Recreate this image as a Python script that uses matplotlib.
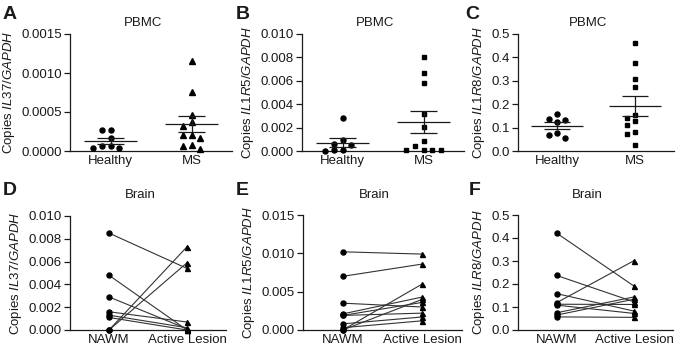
import numpy as np
import matplotlib
matplotlib.use("Agg")
import matplotlib.pyplot as plt

plt.rcParams['font.family'] = ['Liberation Sans', 'DejaVu Sans']
plt.rcParams['mathtext.fontset'] = 'custom'
plt.rcParams['mathtext.rm'] = 'Liberation Sans'
plt.rcParams['mathtext.it'] = 'Liberation Sans:italic'

# --- PBMC data (scatter with mean +/- SEM) ---
pbmc_groups = ["Healthy", "MS"]

il37_healthy = [0.00027, 0.00027, 0.00017, 0.00007, 0.00007, 0.00004, 0.00004]
il37_ms = [0.00115, 0.00076, 0.00046, 0.00037, 0.00032, 0.00020, 0.00021,
           0.00017, 0.00008, 0.00007, 0.00003]

il1r5_healthy = [0.00284, 0.0009, 0.0006, 0.0005, 0.0001, 0.00005, 0.0]
il1r5_ms = [0.00807, 0.0067, 0.00582, 0.00315, 0.00207, 0.00082, 0.00039,
            0.00005, 0.00005, 0.00005, 0.00005]

il1r8_healthy = [0.157, 0.132, 0.126, 0.135, 0.079, 0.070, 0.057]
il1r8_ms = [0.463, 0.378, 0.306, 0.272, 0.155, 0.142, 0.127, 0.112, 0.081,
            0.071, 0.025]

# --- Brain data (paired NAWM vs active lesion) ---
brain_groups = ["NAWM", "Active Lesion"]

il37_nawm = [0.0085, 0.0048, 0.0029, 0.0016, 0.0013, 0.0011, 0.0, 0.0]
il37_lesion = [0.0054, 0.0000, 0.0001, 0.0007, 0.0002, 0.0000, 0.0073, 0.0059]

il1r5_nawm = [0.0102, 0.0070, 0.0035, 0.0021, 0.0019, 0.0019, 0.0008, 0.0003,
              0.0, 0.0]
il1r5_lesion = [0.0099, 0.0086, 0.0030, 0.0043, 0.0036, 0.0022, 0.0017,
                0.0012, 0.0060, 0.0040]

ilr8_nawm = [0.421, 0.237, 0.158, 0.119, 0.112, 0.108, 0.075, 0.065, 0.057]
ilr8_lesion = [0.190, 0.122, 0.082, 0.302, 0.111, 0.072, 0.144, 0.134, 0.055]

W, H = 681, 349
INK = '#1a1a1a'
FS = 9.5


def box(left, right, top, bottom):
    """Axes rectangle from pixel edges."""
    return [left / W, 1 - bottom / H, (right - left) / W, (bottom - top) / H]


def style(ax, ticks, fmt, ylabel, title, title_pad, groups):
    for s in ['top', 'right']:
        ax.spines[s].set_visible(False)
    for s in ['left', 'bottom']:
        ax.spines[s].set_linewidth(0.9)
        ax.spines[s].set_color(INK)
    ax.set_xlim(-0.5, 1.5)
    ax.set_ylim(ticks[0], ticks[-1])
    ax.set_yticks(ticks)
    ax.set_yticklabels([fmt.format(t) for t in ticks])
    ax.set_xticks([0, 1])
    ax.set_xticklabels(groups)
    ax.tick_params(axis='x', length=0, pad=3, labelsize=FS, colors=INK)
    ax.tick_params(axis='y', length=4, width=0.9, pad=2, labelsize=FS,
                   colors=INK)
    ax.set_ylabel('Copies $\\it{' + ylabel + '}$', fontsize=FS, color=INK,
                  labelpad=3)
    ax.set_title(title, fontsize=FS, color=INK, pad=title_pad, x=0.45)


def swarm_x(vals, center, ymax, height_px=117, step=0.107):
    """Simple column-scatter layout: nudge points sideways when they touch."""
    vals = np.asarray(vals)
    xs = np.zeros(len(vals))
    placed = []
    offsets = [0, -1, 1, -2, 2, -3, 3]
    for idx in np.argsort(-vals):
        ypx = vals[idx] / ymax * height_px
        for k in offsets:
            ok = True
            for (pk, py) in placed:
                if abs(pk - k) < 1 and abs(py - ypx) < 6:
                    ok = False
                    break
            if ok:
                placed.append((k, ypx))
                xs[idx] = center + k * step
                break
    return xs


def scatter_panel(ax, a, b, marker_a, marker_b, ms_a, ms_b, ymax):
    for i, (vals, mk, ms) in enumerate([(a, marker_a, ms_a), (b, marker_b, ms_b)]):
        vals = np.asarray(vals)
        n = len(vals)
        xs = swarm_x(vals, i, ymax)
        ax.plot(xs, vals, linestyle='none', marker=mk, ms=ms, color='black',
                clip_on=False, zorder=3)
        m = vals.mean()
        se = vals.std(ddof=1) / np.sqrt(n)
        ax.hlines(m, i - 0.33, i + 0.33, color=INK, lw=0.9, zorder=4)
        ax.hlines([m - se, m + se], i - 0.165, i + 0.165, color=INK, lw=0.9,
                  zorder=4)
        ax.vlines(i, m - se, m + se, color=INK, lw=0.9, zorder=4)


def paired_panel(ax, a, b):
    for ya, yb in zip(a, b):
        ax.plot([0, 1], [ya, yb], color='#333333', lw=0.8, zorder=2,
                clip_on=False)
    ax.plot(np.zeros(len(a)), a, linestyle='none', marker='o', ms=3.6,
            color='black', clip_on=False, zorder=3)
    ax.plot(np.ones(len(b)), b, linestyle='none', marker='^', ms=3.6,
            color='black', clip_on=False, zorder=3)


fig = plt.figure(figsize=(W / 100, H / 100), dpi=100)

axA = fig.add_axes(box(70, 232, 34, 151))
axB = fig.add_axes(box(302, 464, 34, 151))
axC = fig.add_axes(box(518, 674, 34, 151))
axD = fig.add_axes(box(70, 226, 216, 330))
axE = fig.add_axes(box(303, 462, 215, 330))
axF = fig.add_axes(box(518, 673, 215, 330))

scatter_panel(axA, il37_healthy, il37_ms, 'o', '^', 3.6, 3.8, 0.0015)
style(axA, [0, 0.0005, 0.0010, 0.0015], '{:.4f}', 'IL37/GAPDH', 'PBMC', 6,
      pbmc_groups)

scatter_panel(axB, il1r5_healthy, il1r5_ms, 'o', 's', 3.6, 3.0, 0.010)
style(axB, [0, 0.002, 0.004, 0.006, 0.008, 0.010], '{:.3f}', 'IL1R5/GAPDH',
      'PBMC', 6, pbmc_groups)

scatter_panel(axC, il1r8_healthy, il1r8_ms, 'o', 's', 3.6, 3.0, 0.5)
style(axC, [0, 0.1, 0.2, 0.3, 0.4, 0.5], '{:.1f}', 'IL1R8/GAPDH', 'PBMC', 6,
      pbmc_groups)

paired_panel(axD, il37_nawm, il37_lesion)
style(axD, [0, 0.002, 0.004, 0.006, 0.008, 0.010], '{:.3f}', 'IL37/GAPDH',
      'Brain', 13, brain_groups)

paired_panel(axE, il1r5_nawm, il1r5_lesion)
style(axE, [0, 0.005, 0.010, 0.015], '{:.3f}', 'IL1R5/GAPDH', 'Brain', 12,
      brain_groups)

paired_panel(axF, ilr8_nawm, ilr8_lesion)
style(axF, [0, 0.1, 0.2, 0.3, 0.4, 0.5], '{:.1f}', 'ILR8/GAPDH', 'Brain', 12,
      brain_groups)

# panel letters, placed in figure pixels
letters = ['A', 'B', 'C', 'D', 'E', 'F']
letter_xy = [(3, 6), (236, 6), (465, 6), (3, 182), (236, 182), (469, 182)]
for lab, (lx, ly) in zip(letters, letter_xy):
    fig.text(lx / W, 1 - ly / H, lab, fontsize=14, fontweight='bold',
             color=INK, va='top', ha='left')

fig.savefig('out.png', dpi=100)
